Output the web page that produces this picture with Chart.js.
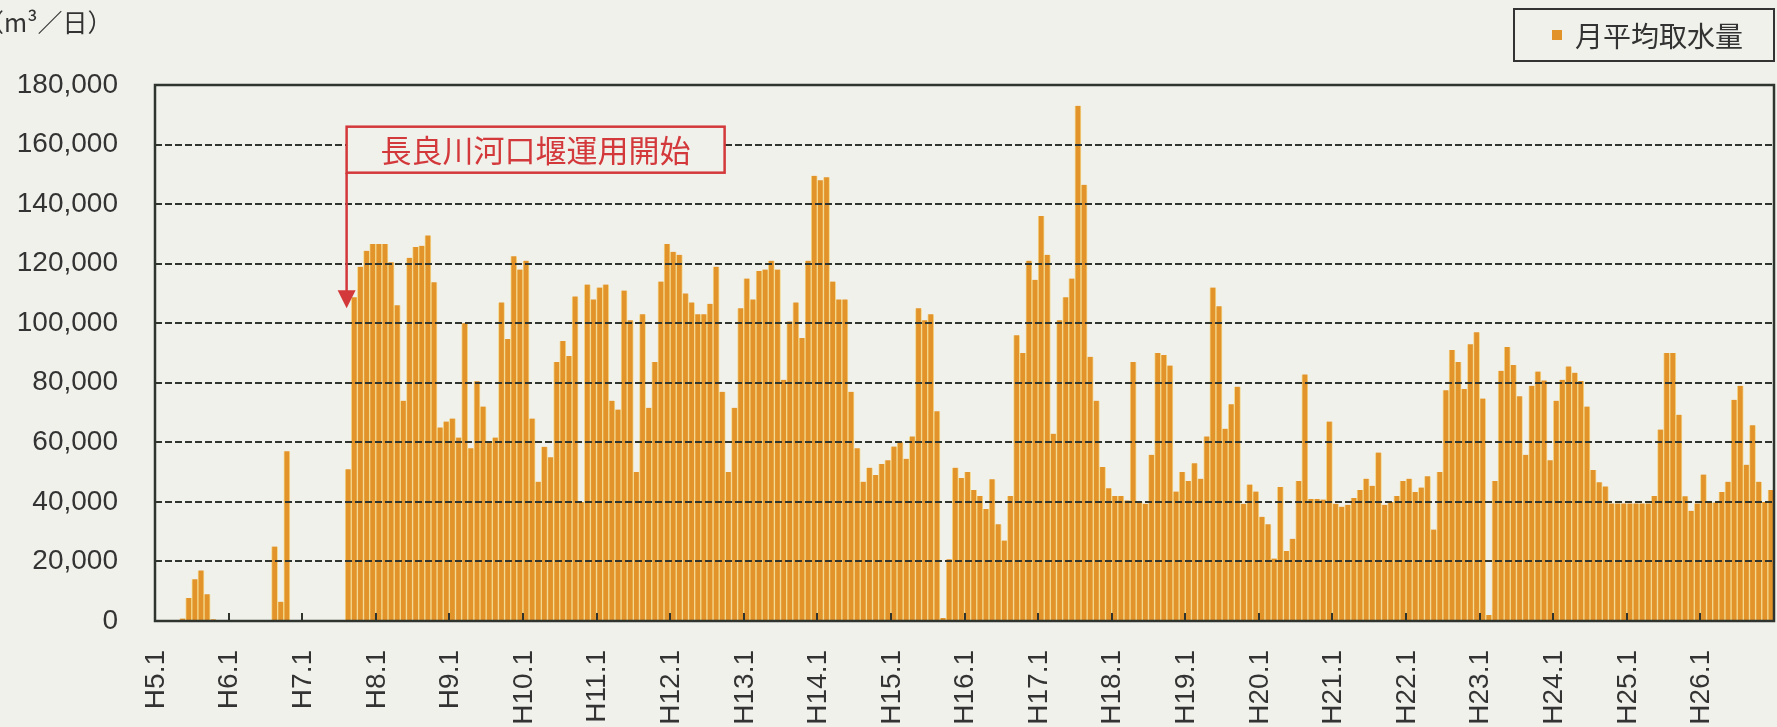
<!DOCTYPE html>
<html lang="ja">
<head>
<meta charset="utf-8">
<title>月平均取水量</title>
<script src="https://cdn.jsdelivr.net/npm/chart.js@4.4.1/dist/chart.umd.min.js"></script>
<style>
  body { margin: 0; background: #f1f1ec; }
  #wrap { position: relative; width: 1777px; height: 727px; overflow: hidden; }
  #unit {
    position: absolute; left: -21px; top: 3px; line-height: 1;
    font: 25px "Noto Sans CJK JP", sans-serif; color: #333;
  }
  #legend {
    position: absolute; left: 1513px; top: 8px; width: 258px; height: 50px;
    border: 2px solid #333; display: flex; align-items: center;
    font: 28px "Noto Sans CJK JP", sans-serif; color: #333;
  }
  #legend .box { width: 10px; height: 10px; margin: 0 13px 0 37px; }
</style>
</head>
<body>
<div id="wrap">
  <canvas id="intakeChart" width="1777" height="727"></canvas>
  <div id="unit">（m³／日）</div>
  <div id="legend"></div>
</div>
<script>
// Data
const years = ['H5', 'H6', 'H7', 'H8', 'H9', 'H10', 'H11', 'H12', 'H13', 'H14', 'H15',
  'H16', 'H17', 'H18', 'H19', 'H20', 'H21', 'H22', 'H23', 'H24', 'H25', 'H26'];
const months = [1, 2, 3, 4, 5, 6, 7, 8, 9, 10, 11, 12];
const categories = years.flatMap(y => months.map(m => y + '.' + m));

const seriesName = '月平均取水量';
const annotationText = '長良川河口堰運用開始';
const yTicks = [0, 20000, 40000, 60000, 80000, 100000, 120000, 140000, 160000, 180000];

// monthly average intake (m3/day), one row per year
const intake = [
  0, 0, 0, 0, 800, 7700, 14000, 17000, 9000, 600, 0, 0,                                   // H5
  0, 0, 0, 0, 0, 0, 0, 25000, 6500, 57000, 0, 0,                                           // H6
  0, 0, 0, 0, 0, 0, 0, 51000, 108700, 119000, 124300, 126600,                              // H7
  126600, 126600, 120500, 106000, 74000, 122000, 125600, 126000, 129500, 113800, 65000, 67000, // H8
  68000, 61600, 100000, 58000, 80500, 72000, 60000, 61600, 107000, 94700, 122500, 118000,  // H9
  121000, 68000, 46800, 58500, 55000, 87000, 94000, 89000, 109000, 40000, 113000, 108000,  // H10
  112000, 113000, 74000, 71000, 111000, 101000, 50000, 103000, 71600, 87000, 114000, 126600, // H11
  124000, 123000, 110000, 107000, 103000, 103000, 106500, 119000, 77000, 50000, 71600, 105000, // H12
  115000, 108000, 117500, 118000, 121000, 118000, 81000, 100600, 107000, 95000, 121000, 149500, // H13
  148000, 149000, 114000, 108000, 108000, 77000, 58000, 46800, 51500, 49000, 52700, 54000, // H14
  58600, 60000, 54500, 62000, 105000, 101000, 103000, 70400, 1000, 20700, 51500, 48000,    // H15
  50000, 44000, 42000, 37600, 47600, 32500, 27000, 42000, 96000, 90000, 121000, 114600,    // H16
  136000, 123000, 62900, 101000, 108700, 115000, 173000, 146500, 88700, 74000, 51700, 44600, // H17
  42000, 42000, 40500, 87000, 40000, 39400, 55800, 90000, 89300, 85800, 43500, 50000,      // H18
  47000, 53000, 47800, 62000, 112000, 105700, 64600, 72800, 78700, 39400, 45800, 43500,    // H19
  35000, 32500, 21000, 45000, 23500, 27600, 47000, 82800, 41000, 41000, 40800, 67000,      // H20
  39400, 38400, 39000, 41300, 44000, 47800, 45400, 56600, 39000, 40000, 42000, 47000,      // H21
  47800, 43300, 44800, 48600, 30700, 50000, 77500, 91000, 87000, 77900, 92900, 97000,      // H22
  74700, 2000, 47000, 84000, 92000, 86000, 75500, 55800, 79000, 83800, 80800, 54000,       // H23
  74000, 81000, 85500, 83400, 80600, 72000, 50700, 46600, 45200, 39500, 39500, 39500,      // H24
  39500, 39500, 39500, 39500, 42000, 64300, 90000, 90000, 69300, 41900, 37000, 39500,      // H25
  49200, 39800, 39800, 43300, 46800, 74300, 79000, 52500, 65700, 46800, 40000, 44000       // H26
];

// Styles
const barColor = '#e2932a';
const stripeColor = '#f3d98e';
const inkColor = '#2f342f';
const redColor = '#d3383b';
const bgColor = '#f1f1ec';
const markIndex = 31; // first month of intake after the barrage started

// Frame, year ticks and the red annotation
const framePlugin = {
  id: 'frame',
  afterDraw(chart) {
    const { ctx, chartArea: a, scales: { x, y } } = chart;
    const slot = (a.right - a.left) / categories.length;
    ctx.save();

    ctx.strokeStyle = inkColor;
    ctx.lineWidth = 2;
    for (let i = 12; i < categories.length; i += 12) {
      const px = Math.round(x.getPixelForValue(i) - slot / 2);
      ctx.beginPath();
      ctx.moveTo(px, a.bottom);
      ctx.lineTo(px, a.bottom - 8);
      ctx.stroke();
    }
    ctx.lineWidth = 2.5;
    ctx.strokeRect(a.left, a.top, a.right - a.left, a.bottom - a.top);

    // annotation box + arrow
    const mx = x.getPixelForValue(markIndex) - slot / 2 + 1.5;
    const boxTop = y.getPixelForValue(166000);
    const boxW = 378, boxH = 46;
    ctx.fillStyle = bgColor;
    ctx.fillRect(mx, boxTop, boxW, boxH);
    ctx.strokeStyle = redColor;
    ctx.lineWidth = 2.5;
    ctx.strokeRect(mx, boxTop, boxW, boxH);
    ctx.fillStyle = redColor;
    ctx.font = '31px "Noto Sans CJK JP", sans-serif';
    ctx.textAlign = 'center';
    ctx.textBaseline = 'middle';
    ctx.fillText(annotationText, mx + boxW / 2, boxTop + boxH / 2 + 1);

    const tipY = y.getPixelForValue(105000);
    ctx.beginPath();
    ctx.moveTo(mx, boxTop + boxH);
    ctx.lineTo(mx, tipY - 16);
    ctx.stroke();
    ctx.beginPath();
    ctx.moveTo(mx - 9, tipY - 18);
    ctx.lineTo(mx + 9, tipY - 18);
    ctx.lineTo(mx, tipY);
    ctx.closePath();
    ctx.fill();
    ctx.restore();
  }
};

const ctx = document.getElementById('intakeChart').getContext('2d');
const chart = new Chart(ctx, {
  type: 'bar',
  data: {
    labels: categories,
    datasets: [{
      label: seriesName,
      data: intake,
      backgroundColor: barColor,
      borderColor: stripeColor,
      borderWidth: { left: 1, right: 1, top: 0, bottom: 0 },
      borderSkipped: false,
      barPercentage: 1,
      categoryPercentage: 1
    }]
  },
  options: {
    responsive: false,
    animation: false,
    locale: 'en-US',
    layout: { padding: { top: 85, right: 3, left: 0, bottom: 0 } },
    plugins: {
      legend: { display: false },
      tooltip: { enabled: false }
    },
    scales: {
      x: {
        afterFit: (scale) => {
          scale.height = 106;
          scale.paddingLeft = 0;
          scale.paddingRight = 0;
        },
        grid: { display: false, drawTicks: false },
        border: { display: false },
        ticks: {
          autoSkip: false,
          minRotation: 90,
          maxRotation: 90,
          padding: 29,
          labelOffset: -2,
          color: '#333',
          font: { family: '"Liberation Sans", sans-serif', size: 28 },
          callback: function (value, index) {
            return index % 12 === 0 ? this.getLabelForValue(value) : '';
          }
        }
      },
      y: {
        min: 0,
        max: 180000,
        afterFit: (scale) => { scale.width = 155; },
        afterBuildTicks: (scale) => { scale.ticks = yTicks.map(v => ({ value: v })); },
        grid: { color: inkColor, lineWidth: 2, drawTicks: false, z: 1 },
        border: { display: false, dash: [7, 3], z: 1 },
        ticks: {
          padding: 37,
          color: '#333',
          font: { family: '"Liberation Sans", sans-serif', size: 28 }
        }
      }
    }
  },
  plugins: [framePlugin]
});

// HTML legend
const legendEl = document.getElementById('legend');
chart.data.datasets.forEach(ds => {
  const box = document.createElement('span');
  box.className = 'box';
  box.style.background = ds.backgroundColor;
  legendEl.appendChild(box);
  legendEl.appendChild(document.createTextNode(ds.label));
});
</script>
</body>
</html>
